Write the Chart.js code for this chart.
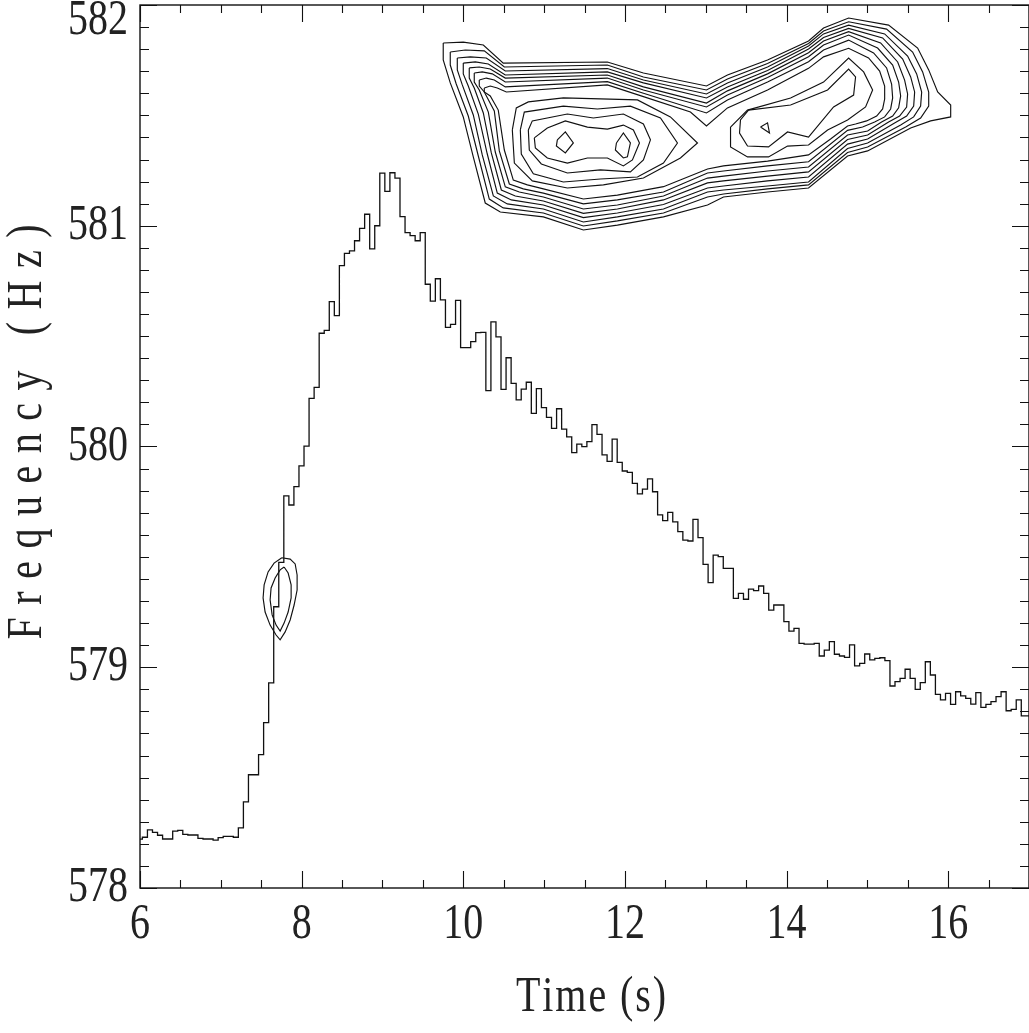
<!DOCTYPE html>
<html>
<head>
<meta charset="utf-8">
<script src="https://cdn.jsdelivr.net/npm/chart.js@4/dist/chart.umd.min.js"></script>
<style>
  html, body { margin: 0; padding: 0; background: #fff; }
  canvas { display: block; }
</style>
</head>
<body>
<canvas id="chart" width="1029" height="1033"></canvas>
<script>
// histogram bins: 1/16 s wide, first bin starts just before 6 s
const binStart = 5.967;
const binWidth = 0.0625;
const freq = [
  578.248, 578.221, 578.230, 578.263, 578.252, 578.239, 578.222, 578.222, 578.258, 578.261,
  578.243, 578.240, 578.240, 578.225, 578.222, 578.222, 578.217, 578.228, 578.234, 578.234,
  578.230, 578.272, 578.390, 578.513, 578.513, 578.604, 578.749, 578.929, 579.274, 579.475,
  579.776, 579.735, 579.818, 579.912, 580.002, 580.218, 580.268, 580.513, 580.526, 580.656,
  580.593, 580.819, 580.875, 580.886, 580.932, 580.988, 581.052, 580.895, 581.000, 581.238,
  581.156, 581.240, 581.216, 581.041, 580.969, 580.955, 580.932, 580.969, 580.735, 580.659,
  580.760, 580.664, 580.540, 580.553, 580.662, 580.448, 580.448, 580.475, 580.516, 580.517,
  580.253, 580.565, 580.497, 580.259, 580.402, 580.286, 580.211, 580.260, 580.291, 580.150,
  580.262, 580.176, 580.132, 580.082, 580.171, 580.079, 580.044, 579.972, 580.011, 579.999,
  580.022, 580.099, 580.055, 579.962, 579.933, 580.033, 579.928, 579.889, 579.883, 579.833,
  579.785, 579.807, 579.853, 579.795, 579.690, 579.664, 579.702, 579.659, 579.614, 579.576,
  579.572, 579.670, 579.587, 579.466, 579.383, 579.508, 579.501, 579.448, 579.448, 579.312,
  579.335, 579.308, 579.354, 579.347, 579.368, 579.335, 579.259, 579.282, 579.282, 579.207,
  579.164, 579.176, 579.108, 579.105, 579.105, 579.108, 579.051, 579.078, 579.116, 579.059,
  579.051, 579.045, 579.101, 579.006, 579.018, 579.060, 579.033, 579.040, 579.043, 579.030,
  578.915, 578.935, 578.950, 578.991, 578.950, 578.900, 578.930, 579.025, 578.965, 578.877,
  578.852, 578.882, 578.832, 578.889, 578.870, 578.859, 578.833, 578.885, 578.818, 578.832,
  578.844, 578.867, 578.889, 578.803, 578.809, 578.852, 578.780
];

// contour rings, [time, frequency]
const outerRings = [
  [[9.752,581.828],[10.000,581.832],[10.248,581.819],[10.495,581.737],[11.783,581.742],[12.229,581.692],[13.009,581.633],[13.269,581.683],[13.765,581.751],[14.272,581.837],[14.458,581.896],[14.768,581.941],[15.263,581.909],[15.622,581.805],[15.759,581.706],[15.870,581.606],[16.031,581.547],[16.031,581.493],[15.783,581.475],[15.536,581.443],[15.003,581.339],[14.755,581.316],[14.272,581.171],[13.765,581.153],[13.220,581.130],[13.022,581.094],[12.477,581.040],[11.907,581.003],[11.486,580.981],[10.991,581.040],[10.458,581.062],[10.272,581.103],[10.124,581.312],[10.000,581.493],[9.839,581.647],[9.752,581.751]],
  [[9.839,581.787],[10.025,581.796],[10.260,581.792],[10.508,581.719],[11.783,581.728],[12.229,581.674],[13.009,581.615],[13.269,581.665],[13.765,581.735],[14.272,581.826],[14.458,581.882],[14.768,581.924],[15.238,581.891],[15.560,581.787],[15.684,581.697],[15.759,581.606],[15.759,581.542],[15.659,581.488],[15.474,581.447],[15.003,581.357],[14.755,581.332],[14.272,581.185],[13.765,581.167],[13.220,581.144],[13.022,581.130],[12.477,581.058],[11.907,581.022],[11.486,580.999],[10.991,581.058],[10.495,581.081],[10.322,581.121],[10.186,581.316],[10.062,581.497],[9.913,581.642],[9.839,581.728]],
  [[9.926,581.760],[10.087,581.765],[10.285,581.760],[10.520,581.701],[11.783,581.712],[12.229,581.660],[13.009,581.597],[13.269,581.647],[13.765,581.719],[14.272,581.814],[14.458,581.869],[14.768,581.909],[15.214,581.869],[15.498,581.769],[15.610,581.688],[15.672,581.606],[15.659,581.542],[15.573,581.493],[15.412,581.456],[15.003,581.375],[14.755,581.350],[14.272,581.198],[13.765,581.180],[13.220,581.162],[13.022,581.153],[12.477,581.076],[11.907,581.040],[11.486,581.017],[10.991,581.076],[10.545,581.099],[10.372,581.135],[10.235,581.321],[10.124,581.502],[9.988,581.638],[9.926,581.706]],
  [[10.000,581.737],[10.149,581.742],[10.310,581.733],[10.520,581.683],[11.783,581.697],[12.229,581.647],[13.009,581.579],[13.269,581.629],[13.765,581.703],[14.272,581.801],[14.458,581.853],[14.768,581.894],[15.189,581.851],[15.437,581.755],[15.536,581.674],[15.585,581.606],[15.573,581.542],[15.486,581.497],[15.337,581.466],[15.003,581.393],[14.755,581.370],[14.272,581.221],[13.765,581.203],[13.220,581.180],[13.022,581.171],[12.477,581.096],[11.907,581.058],[11.486,581.037],[10.991,581.094],[10.594,581.117],[10.421,581.148],[10.297,581.325],[10.186,581.506],[10.062,581.633],[10.000,581.688]],
  [[10.074,581.715],[10.198,581.719],[10.334,581.710],[10.520,581.669],[11.783,581.683],[12.229,581.629],[13.009,581.556],[13.269,581.611],[13.765,581.688],[14.272,581.784],[14.458,581.837],[14.768,581.879],[15.164,581.828],[15.375,581.742],[15.461,581.660],[15.498,581.597],[15.486,581.538],[15.399,581.497],[15.263,581.470],[15.003,581.411],[14.755,581.391],[14.272,581.244],[13.765,581.225],[13.220,581.203],[13.022,581.194],[12.477,581.117],[11.907,581.076],[11.486,581.056],[10.991,581.112],[10.644,581.135],[10.471,581.162],[10.347,581.330],[10.248,581.511],[10.136,581.624],[10.074,581.669]],
  [[10.136,581.692],[10.235,581.697],[10.359,581.688],[10.520,581.651],[11.783,581.669],[12.229,581.615],[13.009,581.538],[13.269,581.592],[13.765,581.672],[14.272,581.766],[14.458,581.819],[14.768,581.864],[15.127,581.805],[15.313,581.728],[15.387,581.651],[15.412,581.588],[15.387,581.534],[15.313,581.497],[15.176,581.470],[15.003,581.429],[14.755,581.411],[14.272,581.266],[13.765,581.248],[13.220,581.225],[13.022,581.216],[12.477,581.135],[11.907,581.094],[11.486,581.076],[10.991,581.130],[10.693,581.153],[10.520,581.176],[10.396,581.334],[10.310,581.515],[10.198,581.615],[10.136,581.651]],
  [[10.198,581.660],[10.285,581.669],[10.384,581.660],[10.520,581.629],[11.783,581.653],[12.229,581.600],[13.009,581.511],[13.269,581.570],[13.765,581.651],[14.272,581.743],[14.458,581.796],[14.768,581.841],[15.077,581.783],[15.238,581.715],[15.300,581.642],[15.313,581.579],[15.288,581.529],[15.214,581.493],[15.090,581.470],[14.941,581.447],[14.755,581.432],[14.272,581.290],[13.765,581.271],[13.220,581.248],[13.022,581.239],[12.477,581.153],[11.907,581.117],[11.486,581.099],[10.991,581.148],[10.743,581.167],[10.570,581.189],[10.446,581.339],[10.384,581.520],[10.260,581.606],[10.198,581.633]],
  [[10.260,581.624],[10.334,581.633],[10.421,581.624],[10.533,581.606],[11.783,581.638],[12.229,581.585],[12.811,581.515],[13.009,581.452],[13.269,581.534],[13.765,581.615],[14.272,581.713],[14.458,581.765],[14.768,581.804],[15.015,581.760],[15.152,581.701],[15.214,581.633],[15.214,581.574],[15.189,581.529],[15.115,581.497],[14.991,581.475],[14.854,581.461],[14.755,581.452],[14.545,581.393],[14.272,581.321],[13.765,581.293],[13.220,581.271],[13.022,581.257],[12.477,581.177],[11.907,581.139],[11.486,581.121],[10.991,581.167],[10.793,581.185],[10.619,581.207],[10.508,581.343],[10.433,581.524],[10.334,581.588],[10.260,581.606]]
];
const leftPeakRings = [
  [[10.607,581.434],[10.656,581.534],[10.805,581.561],[11.238,581.579],[12.155,581.570],[12.563,581.493],[12.898,581.375],[12.687,581.307],[12.229,581.216],[11.734,581.185],[11.288,581.171],[10.854,581.203],[10.632,581.284]],
  [[10.706,581.434],[10.755,581.515],[11.238,581.542],[11.659,581.529],[12.068,581.542],[12.440,581.488],[12.650,581.375],[12.477,581.284],[12.155,581.221],[11.697,581.212],[11.238,581.198],[10.867,581.235],[10.718,581.325]],
  [[10.805,581.434],[10.854,581.475],[11.288,581.506],[11.610,581.488],[11.981,581.506],[12.229,581.461],[12.316,581.389],[12.229,581.298],[12.068,581.244],[11.697,581.253],[11.288,581.239],[10.966,581.280],[10.817,581.343]],
  [[10.879,581.398],[11.040,581.443],[11.263,581.475],[11.536,581.447],[11.783,581.438],[11.981,581.456],[12.105,581.434],[12.180,581.375],[12.093,581.298],[11.981,581.271],[11.783,581.307],[11.536,581.307],[11.288,581.284],[11.040,581.307],[10.892,581.352]],
  [[11.164,581.389],[11.263,581.425],[11.362,581.375],[11.263,581.330],[11.152,581.361]],
  [[11.895,581.375],[11.981,581.420],[12.068,581.375],[12.031,581.312],[11.981,581.307],[11.882,581.343]]
];
const rightPeakRings = [
  [[13.307,581.447],[13.517,581.524],[14.050,581.579],[14.458,581.651],[14.768,581.760],[14.954,581.697],[15.065,581.615],[14.978,581.538],[14.755,581.479],[14.508,581.434],[14.272,581.366],[14.012,581.361],[13.777,581.312],[13.517,581.312],[13.307,581.357]],
  [[13.529,581.524],[14.050,581.547],[14.508,581.615],[14.768,581.710],[14.854,581.674],[14.830,581.592],[14.582,581.538],[14.272,581.402],[14.012,581.425],[13.777,581.357],[13.517,581.361],[13.418,581.420],[13.430,581.479]],
  [[13.678,581.447],[13.765,581.466],[13.789,581.420]]
];
const riseRings = [
  [[7.755,579.496],[7.858,579.490],[7.920,579.468],[7.944,579.418],[7.944,579.350],[7.907,579.282],[7.858,579.214],[7.796,579.160],[7.734,579.124],[7.684,579.146],[7.610,579.191],[7.548,579.250],[7.523,579.314],[7.536,579.373],[7.585,579.432],[7.659,579.472]],
  [[7.783,579.454],[7.833,579.427],[7.870,579.373],[7.870,579.314],[7.833,579.250],[7.783,579.200],[7.734,579.164],[7.684,579.191],[7.635,579.237],[7.610,579.305],[7.622,579.359],[7.672,579.404],[7.734,579.441]]
];

const xTickValues = [6, 8, 10, 12, 14, 16];
const yTickValues = [578, 579, 580, 581, 582];
const xMinorStep = 0.5;
const yMinorStep = 0.1;
const xTitle = 'Time (s)';
const yTitle = 'Frequency (Hz)';

const FONT = '"Liberation Serif", "Times New Roman", serif';
const SX = 0.8;  // narrower glyphs, closer to the plotter font

// histogram as stepped points, with a closing point for the last bin
const histPoints = freq.map((f, i) => ({ x: binStart + i * binWidth, y: f }));
histPoints.push({ x: binStart + freq.length * binWidth, y: freq[freq.length - 1] });

function ringDataset(ring) {
  const pts = ring.map(p => ({ x: p[0], y: p[1] }));
  pts.push({ x: ring[0][0], y: ring[0][1] });
  return {
    data: pts, showLine: true, borderColor: '#111', borderWidth: 1.15,
    pointRadius: 0, tension: 0, fill: false
  };
}

const datasets = [{
  data: histPoints, showLine: true, stepped: 'after',
  borderColor: '#111', borderWidth: 1.3, pointRadius: 0, fill: false
}];
[...outerRings, ...leftPeakRings, ...rightPeakRings, ...riseRings].forEach(r => datasets.push(ringDataset(r)));

function drawText(ctx, text, x, y, align) {
  ctx.save();
  ctx.translate(x, y);
  ctx.scale(SX, 1);
  ctx.textAlign = align;
  ctx.textBaseline = 'middle';
  ctx.fillText(text, 0, 0);
  ctx.restore();
}

// text spread to a given total width, centred on 0,0 of the current transform
function drawSpaced(ctx, text, total) {
  const chars = [...text];
  const widths = chars.map(c => ctx.measureText(c).width * SX);
  const gap = (total - widths.reduce((s, w) => s + w, 0)) / (chars.length - 1);
  let cx = -total / 2;
  chars.forEach((c, i) => {
    drawText(ctx, c, cx, 0, 'left');
    cx += widths[i] + gap;
  });
}

const framePlugin = {
  id: 'frame',
  afterDraw(chart) {
    const { ctx, chartArea: a, scales: { x, y } } = chart;
    ctx.save();
    ctx.strokeStyle = '#111';
    ctx.lineWidth = 1.4;
    ctx.strokeRect(a.left, a.top, a.right - a.left, a.bottom - a.top);

    // ticks on all four sides, pointing inwards
    ctx.lineWidth = 1.1;
    ctx.beginPath();
    for (let v = x.min; v <= x.max + 1e-6; v += xMinorStep) {
      const px = Math.round(x.getPixelForValue(v)) + 0.5;
      const len = xTickValues.some(t => Math.abs(t - v) < 1e-6) ? 17 : 8;
      ctx.moveTo(px, a.bottom); ctx.lineTo(px, a.bottom - len);
      ctx.moveTo(px, a.top); ctx.lineTo(px, a.top + len);
    }
    for (let v = y.min; v <= y.max + 1e-6; v += yMinorStep) {
      const py = Math.round(y.getPixelForValue(v)) + 0.5;
      const len = yTickValues.some(t => Math.abs(t - v) < 1e-6) ? 17 : 9;
      ctx.moveTo(a.left, py); ctx.lineTo(a.left + len, py);
      ctx.moveTo(a.right, py); ctx.lineTo(a.right - len, py);
    }
    ctx.stroke();

    // tick labels
    ctx.fillStyle = '#222';
    ctx.font = '50px ' + FONT;
    xTickValues.forEach(v => drawText(ctx, String(v), x.getPixelForValue(v), 925, 'center'));
    yTickValues.forEach(v => {
      const py = Math.max(y.getPixelForValue(v), a.top + 16);
      drawText(ctx, String(v), 128, py, 'right');
    });

    // axis titles
    ctx.save();
    ctx.translate(591, 998);
    drawSpaced(ctx, xTitle, 150);
    ctx.restore();

    ctx.save();
    ctx.translate(28, 432);
    ctx.rotate(-Math.PI / 2);
    drawSpaced(ctx, yTitle, 415);
    ctx.restore();
    ctx.restore();
  }
};

new Chart(document.getElementById('chart'), {
  type: 'scatter',
  data: { datasets },
  options: {
    responsive: false,
    animation: false,
    devicePixelRatio: 1,
    layout: { padding: { top: 5, right: -2, left: 0, bottom: 0 } },
    plugins: { legend: { display: false }, tooltip: { enabled: false } },
    scales: {
      x: {
        type: 'linear', min: 6, max: 17,
        grid: { display: false }, border: { display: false },
        ticks: { display: false },
        afterFit(s) { s.height = 145; }
      },
      y: {
        type: 'linear', min: 578, max: 582,
        grid: { display: false }, border: { display: false },
        ticks: { display: false },
        afterFit(s) { s.width = 140; }
      }
    }
  },
  plugins: [framePlugin]
});
</script>
</body>
</html>
